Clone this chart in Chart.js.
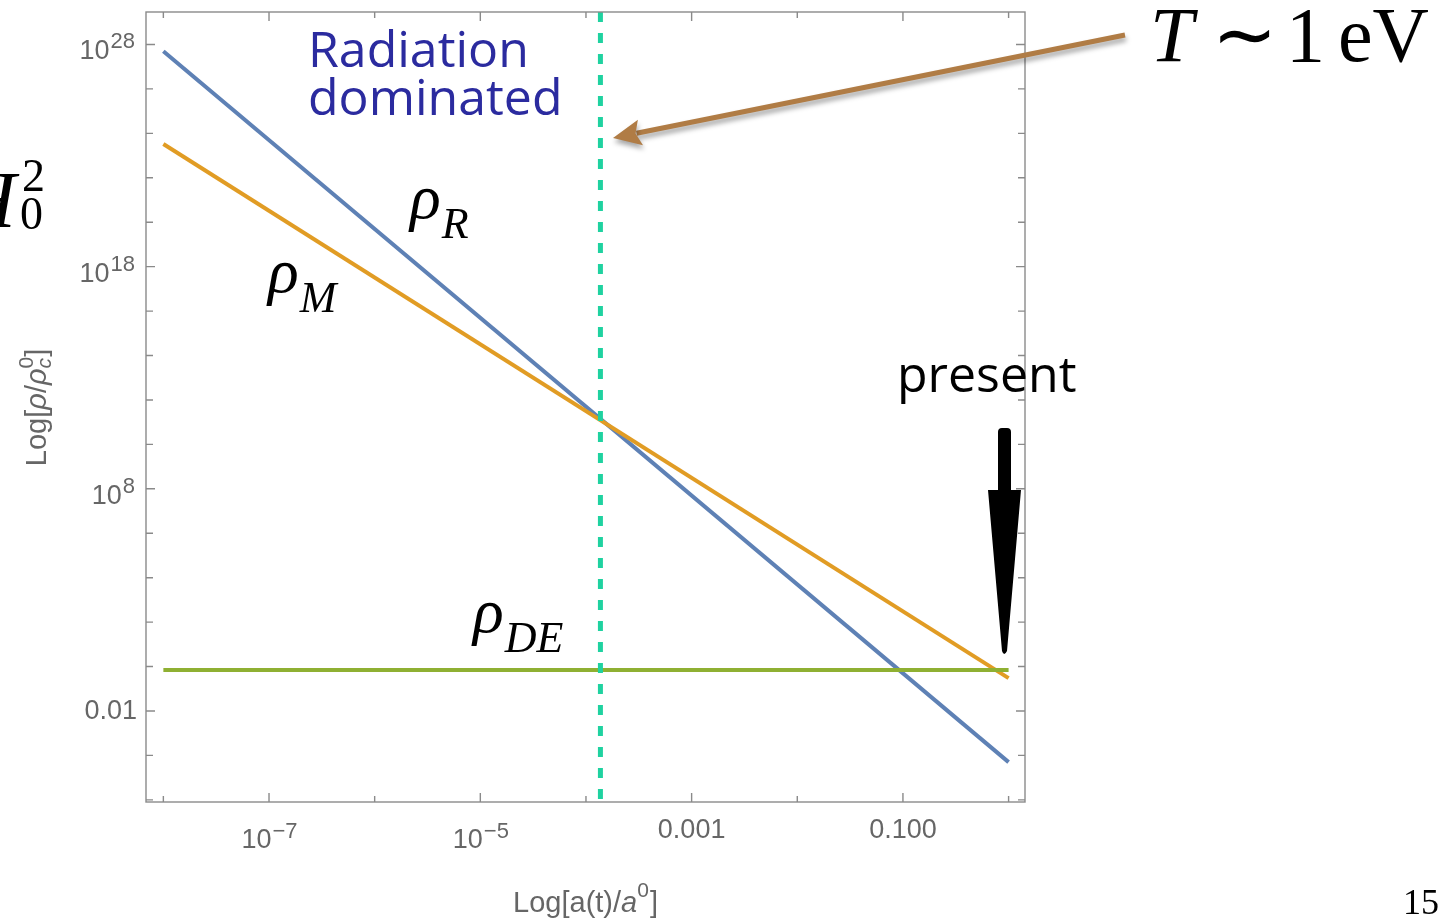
<!DOCTYPE html>
<html>
<head>
<meta charset="utf-8">
<script src="https://cdn.jsdelivr.net/npm/chart.js@4/dist/chart.umd.min.js"></script>
<style>
html, body { margin: 0; padding: 0; background: #fff; overflow: hidden; }
#wrap { position: relative; width: 1441px; height: 918px; }
</style>
</head>
<body>
<div id="wrap"><canvas id="c" width="1441" height="918"></canvas></div>
<script>
// a(t)/a0 at the two ends of every curve
const scaleFactor = [1e-8, 1];
const rhoR = [5e27, 5e-5];
const rhoM = [3.3e23, 0.3];
const rhoDE = [0.7, 0.7];
// radiation-matter equality (dashed line)
const aEquality = 1.37e-4;

// axis ranges
const X_MIN = 6.85e-9, X_MAX = 1.43;
const Y_MIN = 8.0e-7, Y_MAX = 2.9e29;

// tick marks and labels
const xTickVals = [1e-8, 1e-7, 1e-6, 1e-5, 1e-4, 1e-3, 1e-2, 1e-1, 1];
const xLabelVals = [1e-7, 1e-5, 1e-3, 1e-1];
const xLabelTexts = ['10^\u22127', '10^\u22125', '0.001', '0.100'];
const yTickVals = [1e-6, 1e-4, 1e-2, 1, 1e2, 1e4, 1e6, 1e8, 1e10, 1e12, 1e14, 1e16, 1e18, 1e20, 1e22, 1e24, 1e26, 1e28];
const yLabelVals = [1e28, 1e18, 1e8, 1e-2];
const yLabelTexts = ['10^28', '10^18', '10^8', '0.01'];

const FRAME = '#8a8a8a';
const TICK_TXT = '#666666';
const SANS = '"Liberation Sans", Arial, sans-serif';
const SERIF = '"Liberation Serif", "Times New Roman", serif';

const line = (xs, ys) => xs.map((x, i) => ({x, y: ys[i]}));

// frame, inward ticks on all four sides, tick labels with superscripts
const framePlugin = {
	id: 'frame',
	afterDraw(chart) {
		const {ctx, chartArea: a, scales: {x, y}} = chart;
		ctx.save();
		ctx.strokeStyle = FRAME;
		ctx.lineWidth = 1.4;
		ctx.strokeRect(a.left, a.top, a.right - a.left, a.bottom - a.top);

		xTickVals.forEach(v => {
			const px = x.getPixelForValue(v);
			const len = xLabelVals.includes(v) ? 9 : 6;
			ctx.beginPath();
			ctx.moveTo(px, a.bottom); ctx.lineTo(px, a.bottom - len);
			ctx.moveTo(px, a.top); ctx.lineTo(px, a.top + len);
			ctx.stroke();
		});
		yTickVals.forEach(v => {
			const py = y.getPixelForValue(v);
			const len = yLabelVals.includes(v) ? 9 : 7;
			ctx.beginPath();
			ctx.moveTo(a.left, py); ctx.lineTo(a.left + len, py);
			ctx.moveTo(a.right, py); ctx.lineTo(a.right - len, py);
			ctx.stroke();
		});

		ctx.fillStyle = TICK_TXT;
		ctx.textBaseline = 'alphabetic';
		xLabelVals.forEach((v, i) => {
			const px = x.getPixelForValue(v);
			const [base, exp] = xLabelTexts[i].split('^');
			if (exp) {
				ctx.font = '27px ' + SANS;
				const bw = ctx.measureText(base).width;
				ctx.font = '22px ' + SANS;
				const ew = ctx.measureText(exp).width;
				const x0 = px - (bw + ew) / 2;
				ctx.textAlign = 'left';
				ctx.font = '27px ' + SANS;
				ctx.fillText(base, x0, 848);
				ctx.font = '22px ' + SANS;
				ctx.fillText(exp, x0 + bw + 1, 838);
			} else {
				ctx.font = '27px ' + SANS;
				ctx.textAlign = 'center';
				ctx.fillText(base, px, 838);
			}
		});
		yLabelVals.forEach((v, i) => {
			const py = y.getPixelForValue(v);
			const [base, exp] = yLabelTexts[i].split('^');
			const right = a.left - 11;
			if (exp) {
				ctx.font = '22px ' + SANS;
				const ew = ctx.measureText(exp).width;
				ctx.textAlign = 'right';
				ctx.fillText(exp, right, py + 4);
				ctx.font = '27px ' + SANS;
				ctx.fillText(base, right - ew - 1, py + 15);
			} else {
				ctx.font = '27px ' + SANS;
				ctx.textAlign = 'right';
				ctx.fillText(base, right + 2, py + 8);
			}
		});

		// axis titles
		ctx.textAlign = 'left';
		ctx.font = '29px ' + SANS;
		let t1 = 'Log[a(t)/';
		let w1 = ctx.measureText(t1).width;
		ctx.font = 'italic 29px ' + SANS;
		let w2 = ctx.measureText('a').width;
		ctx.font = '21px ' + SANS;
		let w3 = ctx.measureText('0').width;
		ctx.font = '29px ' + SANS;
		let w4 = ctx.measureText(']').width;
		let sx = 585 - (w1 + w2 + w3 + w4) / 2;
		ctx.fillText(t1, sx, 912);
		ctx.font = 'italic 29px ' + SANS;
		ctx.fillText('a', sx + w1, 912);
		ctx.font = '21px ' + SANS;
		ctx.fillText('0', sx + w1 + w2, 897);
		ctx.font = '29px ' + SANS;
		ctx.fillText(']', sx + w1 + w2 + w3 + 1, 912);

		ctx.save();
		ctx.translate(46, 408);
		ctx.rotate(-Math.PI / 2);
		const parts = [
			['Log[', '29px ' + SANS, 0],
			['\u03C1', 'italic 29px ' + SANS, 0],
			['/', '29px ' + SANS, 0],
			['\u03C1', 'italic 29px ' + SANS, 0],
			['c', 'italic 21px ' + SANS, 5],
			['0', '21px ' + SANS, -13],
			[']', '29px ' + SANS, 0]
		];
		let total = 0;
		parts.forEach((p, i) => {
			ctx.font = p[1];
			if (i !== 5) total += ctx.measureText(p[0]).width;
		});
		let cx = -total / 2;
		parts.forEach((p, i) => {
			ctx.font = p[1];
			ctx.fillText(p[0], cx, p[2]);
			if (i !== 4) cx += ctx.measureText(p[0]).width;
		});
		ctx.restore();
		ctx.restore();
	}
};

// slide annotations drawn over the plot
const notesPlugin = {
	id: 'notes',
	afterDraw(chart) {
		const {ctx} = chart;
		ctx.save();
		ctx.textAlign = 'left';
		ctx.textBaseline = 'alphabetic';

		ctx.fillStyle = '#2b2b9f';
		ctx.font = '50px "Open Sans", "Noto Sans", sans-serif';
		ctx.fillText('Radiation', 308, 67);
		ctx.fillText('dominated', 308, 115);

		ctx.fillStyle = '#000';
		ctx.font = '50px "Open Sans", "Noto Sans", sans-serif';
		ctx.fillText('present', 897, 392);

		const rho = (x, y, sub) => {
			ctx.font = 'italic 64px ' + SERIF;
			ctx.fillText('\u03C1', x, y);
			const w = ctx.measureText('\u03C1').width;
			ctx.font = 'italic 44px ' + SERIF;
			ctx.fillText(sub, x + w + 1, y + 20);
		};
		rho(410, 218, 'R');
		rho(268, 292, 'M');
		rho(473, 632, 'DE');

		// T ~ 1 eV
		ctx.font = 'italic 78px ' + SERIF;
		ctx.fillText('T', 1150, 61);
		ctx.font = '78px ' + SERIF;
		ctx.fillText('\u223C', 1212, 61);
		ctx.fillText('1', 1286, 61);
		ctx.fillText('eV', 1338, 61);

		// page number and clipped heading piece
		ctx.font = '36px ' + SERIF;
		ctx.textAlign = 'right';
		ctx.fillText('15', 1439, 914);
		ctx.textAlign = 'left';
		ctx.font = 'italic 80px ' + SERIF;
		ctx.fillText('H', -42, 227);
		ctx.font = '46px ' + SERIF;
		ctx.fillText('2', 22, 191);
		ctx.fillText('0', 20, 229);

		// brown arrow to the equality line
		const tail = [1125, 35], tip = [613, 138];
		const dx = tip[0] - tail[0], dy = tip[1] - tail[1];
		const len = Math.hypot(dx, dy), ux = dx / len, uy = dy / len;
		const bx = tip[0] - ux * 28, by = tip[1] - uy * 28;
		ctx.save();
		ctx.shadowColor = 'rgba(0,0,0,0.35)';
		ctx.shadowBlur = 5;
		ctx.shadowOffsetX = 1;
		ctx.shadowOffsetY = 4;
		ctx.strokeStyle = '#b07c45';
		ctx.fillStyle = '#b07c45';
		ctx.lineWidth = 5;
		ctx.beginPath();
		ctx.moveTo(tail[0], tail[1]);
		ctx.lineTo(bx + ux * 4, by + uy * 4);
		ctx.stroke();
		ctx.beginPath();
		ctx.moveTo(tip[0], tip[1]);
		ctx.lineTo(bx - uy * 13, by + ux * 13);
		ctx.lineTo(bx + ux * 5, by + uy * 5);
		ctx.lineTo(bx + uy * 13, by - ux * 13);
		ctx.closePath();
		ctx.fill();
		ctx.restore();

		// black arrow for "present"
		ctx.fillStyle = '#000';
		ctx.beginPath();
		ctx.moveTo(998, 432);
		ctx.quadraticCurveTo(998, 428, 1002, 428);
		ctx.lineTo(1007, 428);
		ctx.quadraticCurveTo(1011, 428, 1011, 432);
		ctx.lineTo(1011, 490);
		ctx.lineTo(1021, 490);
		ctx.lineTo(1007, 651);
		ctx.quadraticCurveTo(1004, 657, 1002, 651);
		ctx.lineTo(988, 490);
		ctx.lineTo(998, 490);
		ctx.closePath();
		ctx.fill();
		ctx.restore();
	}
};

new Chart(document.getElementById('c').getContext('2d'), {
	type: 'line',
	data: {
		datasets: [
			{
				label: 'equality',
				data: [{x: aEquality, y: Y_MAX}, {x: aEquality, y: Y_MIN}],
				borderColor: '#1fd2a0',
				borderWidth: 5,
				borderDash: [10, 11],
				order: 0
			},
			{
				label: 'rho_DE',
				data: line(scaleFactor, rhoDE),
				borderColor: '#8fb032',
				borderWidth: 4,
				order: 1
			},
			{
				label: 'rho_M',
				data: line(scaleFactor, rhoM),
				borderColor: '#e19c24',
				borderWidth: 4,
				order: 2
			},
			{
				label: 'rho_R',
				data: line(scaleFactor, rhoR),
				borderColor: '#5e81b5',
				borderWidth: 4,
				order: 3
			}
		]
	},
	options: {
		responsive: false,
		animation: false,
		events: [],
		elements: {point: {radius: 0}, line: {tension: 0}},
		layout: {padding: {top: 12, right: 416, left: 0, bottom: 0}},
		plugins: {legend: {display: false}, tooltip: {enabled: false}},
		scales: {
			x: {
				type: 'logarithmic',
				min: X_MIN,
				max: X_MAX,
				grid: {display: false},
				border: {display: false},
				ticks: {display: false},
				afterFit: s => { s.height = 116; }
			},
			y: {
				type: 'logarithmic',
				min: Y_MIN,
				max: Y_MAX,
				grid: {display: false},
				border: {display: false},
				ticks: {display: false},
				afterFit: s => { s.width = 146; }
			}
		}
	},
	plugins: [framePlugin, notesPlugin]
});
</script>
</body>
</html>
